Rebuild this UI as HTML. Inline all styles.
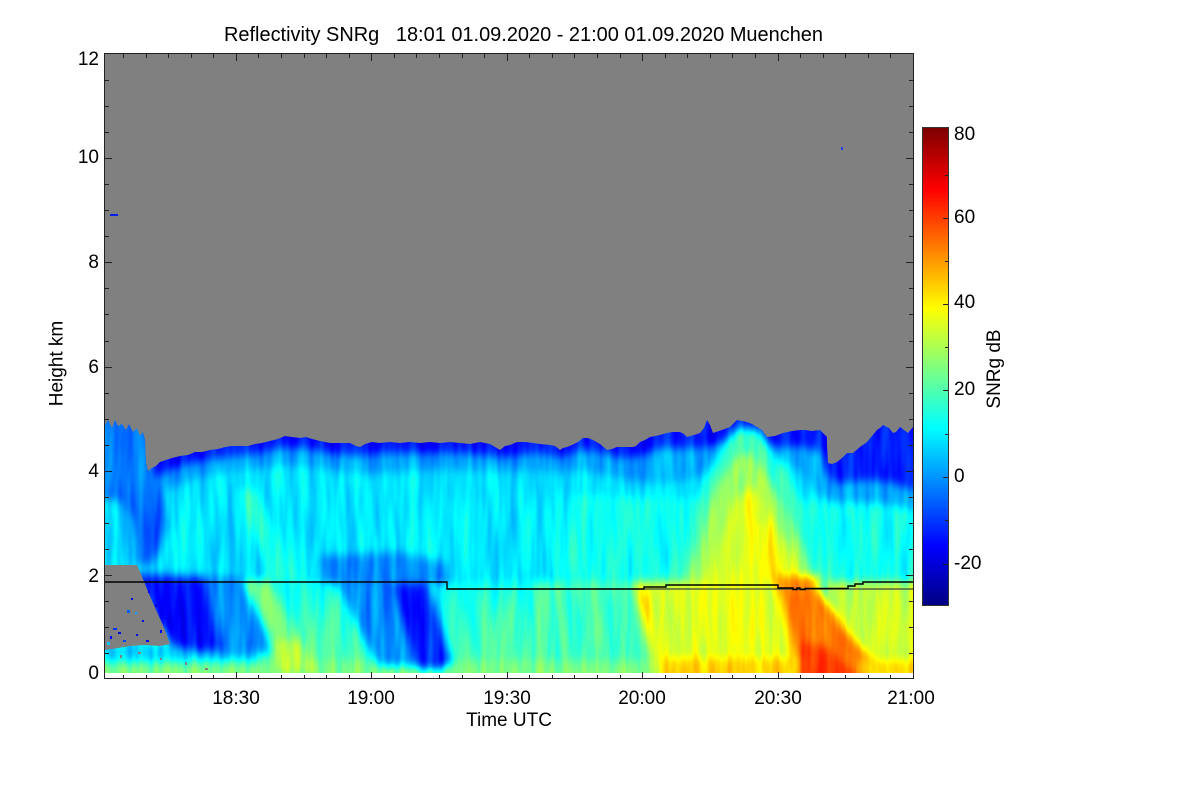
<!DOCTYPE html>
<html><head><meta charset="utf-8"><style>
html,body{margin:0;padding:0;background:#fff;}
svg{display:block;font-family:"Liberation Sans",Arial,Helvetica,sans-serif;}
</style></head><body>
<svg width="1200" height="800" viewBox="0 0 1200 800" xmlns="http://www.w3.org/2000/svg">
<defs>
<filter id="cm" filterUnits="userSpaceOnUse" x="75" y="24" width="868" height="679" color-interpolation-filters="sRGB">
<feGaussianBlur in="SourceGraphic" stdDeviation="4.5" result="b"/>
<feTurbulence type="fractalNoise" baseFrequency="0.11 0.012" numOctaves="2" seed="7" result="n"/>
<feColorMatrix in="n" type="matrix" values="1 0 0 0 0  1 0 0 0 0  1 0 0 0 0  0 0 0 0 1" result="ng"/>
<feComposite in="b" in2="ng" operator="arithmetic" k1="0" k2="1" k3="0.16" k4="-0.08" result="v"/>
<feComponentTransfer in="v">
<feFuncR type="table" tableValues="0 0 0 0 0.5 1 1 1 0.5"/>
<feFuncG type="table" tableValues="0 0 0.5 1 1 1 0.5 0 0"/>
<feFuncB type="table" tableValues="0.5 1 1 1 0.5 0 0 0 0"/>
</feComponentTransfer>
</filter>
<linearGradient id="lowg" gradientUnits="userSpaceOnUse" x1="0" y1="582" x2="0" y2="673">
<stop offset="0" stop-color="rgb(98,98,98)"/>
<stop offset="0.85" stop-color="rgb(116,116,116)"/>
<stop offset="1" stop-color="rgb(130,130,130)"/>
</linearGradient>
<linearGradient id="jet" gradientUnits="userSpaceOnUse" x1="0" y1="606" x2="0" y2="130">
<stop offset="0" stop-color="#000080"/>
<stop offset="0.125" stop-color="#0000ff"/>
<stop offset="0.375" stop-color="#00ffff"/>
<stop offset="0.625" stop-color="#ffff00"/>
<stop offset="0.875" stop-color="#ff0000"/>
<stop offset="1" stop-color="#800000"/>
</linearGradient>
<clipPath id="da"><rect x="105" y="54" width="808" height="619"/></clipPath>
</defs>
<rect width="1200" height="800" fill="#fff"/>

<g clip-path="url(#da)">
<g filter="url(#cm)">
<rect x="75" y="24" width="868" height="679" fill="rgb(90,90,90)"/>
<polygon points="570,495 943,505 943,582 560,582" fill="rgb(100,100,100)"/>
<rect x="75" y="582" width="570" height="121" fill="url(#lowg)"/>
<polygon points="530,582 636,582 664,703 555,703" fill="rgb(114,114,114)"/>
<polygon points="75,661 655,661 660,703 75,703" fill="rgb(126,126,126)"/>
<polygon points="825,582 943,582 943,703 865,703 840,630" fill="rgb(144,144,144)"/>
<polygon points="632,582 800,582 815,703 662,703 650,640" fill="rgb(152,152,152)"/>
<polygon points="778,582 815,582 845,630 885,673 890,703 800,703 790,630" fill="rgb(192,192,192)"/>
<polygon points="658,658 800,658 800,703 662,703" fill="rgb(170,170,170)"/>
<polygon points="638,595 648,595 668,673 656,673" fill="rgb(165,165,165)"/>
<polygon points="858,660 943,660 943,703 868,703" fill="rgb(168,168,168)"/>
<polygon points="802,642 826,647 855,673 852,703 802,703" fill="rgb(210,210,210)"/>
<polygon points="105,640 200,645 260,655 260,662 75,662 75,640" fill="rgb(85,85,85)"/>
<polygon points="128,572 255,578 278,652 220,655 180,645" fill="rgb(66,66,66)"/>
<polygon points="135,576 205,578 222,648 200,652 172,645 150,610" fill="rgb(36,36,36)"/>
<polygon points="243,580 268,580 318,673 284,673" fill="rgb(128,128,128)"/>
<polygon points="268,640 300,640 318,673 278,673" fill="rgb(142,142,142)"/>
<polygon points="335,580 405,580 432,666 378,666" fill="rgb(68,68,68)"/>
<polygon points="388,580 428,580 452,662 438,670 418,668 404,625" fill="rgb(40,40,40)"/>
<polygon points="75,24 943,24 943,512 913,510 890,505 860,502 835,503 815,492 800,472 785,462 760,455 740,455 720,462 700,476 680,482 660,484 640,482 620,478 600,474 580,470 560,472 520,470 480,471 440,469 400,472 360,474 320,468 290,465 250,469 200,476 170,488 152,500 105,500 75,500" fill="rgb(74,74,74)"/>
<polygon points="75,24 943,24 943,490 913,490 890,482 870,480 850,482 835,483 826,470 822,452 800,446 780,448 765,442 750,436 735,436 715,445 700,448 680,448 660,448 640,456 620,458 600,452 580,450 560,458 540,453 500,457 460,453 420,453 380,453 360,456 330,453 300,448 280,448 250,455 220,458 190,463 165,472 150,484 140,468 125,452 105,452 75,452" fill="rgb(38,38,38)"/>
<polygon points="75,400 150,400 152,470 165,495 170,525 160,550 150,565 135,565 132,520 120,500 75,500" fill="rgb(60,60,60)"/>
<polygon points="238,490 256,490 300,582 272,582" fill="rgb(106,106,106)"/>
<polygon points="320,556 400,552 445,562 450,584 325,584" fill="rgb(66,66,66)"/>
<polygon points="688,540 705,480 722,445 738,428 758,430 780,462 800,500 820,545 832,582 660,582" fill="rgb(110,110,110)"/>
<polygon points="700,545 718,485 735,458 750,452 765,474 790,518 808,560 815,582 685,582" fill="rgb(136,136,136)"/>
<polygon points="718,545 735,500 752,485 768,510 790,548 803,582 705,582" fill="rgb(154,154,154)"/>
<polygon points="755,522 766,522 782,582 764,582" fill="rgb(168,168,168)"/>
<polygon points="775,576 818,576 820,594 778,594" fill="rgb(188,188,188)"/>
</g>
<path fill="#808080" d="M105,54 L913,54 L913,427 908,433 904,430 900,427 896,432 893,433 889,428 883,425 880,428 877,430 872,436 867,442 860,447 853,453 847,453 842,458 837,462 832,464 828,463 827,445 827,437 822,432 820,430 812,431 805,430 800,430 792,431 783,433 775,436 767,437 762,430 757,427 752,424 747,422 742,421 737,420 733,424 730,427 722,430 716,432 713,433 710,425 707,420 704,428 700,433 694,435 687,437 684,434 680,432 673,432 667,433 660,435 655,436 650,437 645,440 640,442 636,446 633,447 625,447 617,447 612,449 607,450 600,444 593,440 588,438 583,438 578,442 572,445 567,447 563,448 560,450 555,446 550,445 540,444 533,443 525,442 517,442 510,445 505,446 500,450 490,444 480,442 470,444 460,443 450,442 440,443 430,442 420,443 410,442 400,443 390,442 380,443 372,442 365,444 360,447 356,446 350,443 340,443 330,443 320,441 312,439 306,437 300,438 292,437 285,436 278,439 270,441 262,443 255,444 248,446 240,446 232,446 225,447 218,449 210,450 202,452 195,452 188,455 180,456 172,458 166,460 160,462 156,466 152,468 148,471 146,462 145,440 143,432 140,436 137,428 133,432 129,424 126,430 122,424 118,426 115,420 112,428 108,420 105,425 Z"/>
<polygon fill="#808080" points="105,565 137,565 141,574 145,584 149,594 153,603 157,612 161,621 165,630 168,638 170,644 160,646 145,645 130,646 118,648 105,650"/>
<g>
<rect x="113" y="628" width="4" height="2" fill="#0030ff"/>
<rect x="118" y="632" width="3" height="2" fill="#0000e0"/>
<rect x="127" y="610" width="3" height="3" fill="#0060ff"/>
<rect x="135" y="612" width="2" height="2" fill="#00a0ff"/>
<rect x="148" y="590" width="2" height="3" fill="#0000ff"/>
<rect x="155" y="604" width="2" height="3" fill="#0000d0"/>
<rect x="142" y="620" width="2" height="2" fill="#0000ff"/>
<rect x="110" y="636" width="2" height="3" fill="#0000ff"/>
<rect x="123" y="640" width="3" height="2" fill="#0040ff"/>
<rect x="160" y="630" width="2" height="3" fill="#0000ff"/>
<rect x="131" y="598" width="2" height="2" fill="#0000ff"/>
<rect x="146" y="640" width="3" height="2" fill="#0000ff"/>
<rect x="107" y="642" width="3" height="3" fill="#00c0ff"/>
<rect x="136" y="634" width="2" height="2" fill="#0000ff"/>
<rect x="120" y="655" width="2" height="3" fill="#808080"/>
<rect x="138" y="652" width="3" height="2" fill="#808080"/>
<rect x="160" y="658" width="2" height="2" fill="#808080"/>
<rect x="185" y="662" width="2" height="3" fill="#808080"/>
<rect x="205" y="668" width="3" height="2" fill="#808080"/>
<rect x="110" y="214" width="8" height="2" fill="#0020f0"/>
<rect x="841" y="147" width="2" height="3" fill="#2040ff"/>
</g>
</g>

<!-- black lines -->
<polyline fill="none" stroke="#404040" stroke-width="1.2" points="447,589 913,589"/>
<polyline fill="none" stroke="#000" stroke-width="1.4" points="105,582 447,582 447,589 644,589 644,587 666,587 666,585 778,585 778,588 793,588 793,589.5 797,589.5 797,588 800,588 800,589.5 805,589.5 805,588.5 848,588.5 848,586 855,586 855,584 863,584 863,582 913,582"/>

<!-- frame -->
<rect x="104.5" y="53.5" width="809" height="625" fill="none" stroke="#222" stroke-width="1"/>
<path stroke="#222" stroke-width="1" fill="none" d="
M123.5 679v-4M146.5 679v-4M168.5 679v-4M191.5 679v-4M213.5 679v-4M258.5 679v-4M281.5 679v-4M304.5 679v-4M326.5 679v-4M349.5 679v-4M394.5 679v-4M416.5 679v-4M439.5 679v-4M462.5 679v-4M484.5 679v-4M529.5 679v-4M552.5 679v-4M574.5 679v-4M597.5 679v-4M620.5 679v-4M665.5 679v-4M687.5 679v-4M710.5 679v-4M732.5 679v-4M755.5 679v-4M800.5 679v-4M823.5 679v-4M845.5 679v-4M868.5 679v-4M890.5 679v-4
M236.5 679v-7M371.5 679v-7M507.5 679v-7M642.5 679v-7M778.5 679v-7
M123.5 54v4M146.5 54v4M168.5 54v4M191.5 54v4M213.5 54v4M258.5 54v4M281.5 54v4M304.5 54v4M326.5 54v4M349.5 54v4M394.5 54v4M416.5 54v4M439.5 54v4M462.5 54v4M484.5 54v4M529.5 54v4M552.5 54v4M574.5 54v4M597.5 54v4M620.5 54v4M665.5 54v4M687.5 54v4M710.5 54v4M732.5 54v4M755.5 54v4M800.5 54v4M823.5 54v4M845.5 54v4M868.5 54v4M890.5 54v4
M236.5 54v7M371.5 54v7M507.5 54v7M642.5 54v7M778.5 54v7
M105 653.5h4M105 627.5h4M105 601.5h4M105 549.5h4M105 523.5h4M105 497.5h4M105 445.5h4M105 419.5h4M105 393.5h4M105 341.5h4M105 314.5h4M105 288.5h4M105 236.5h4M105 210.5h4M105 184.5h4M105 132.5h4M105 106.5h4M105 80.5h4
M105 575.5h7M105 471.5h7M105 367.5h7M105 262.5h7M105 158.5h7
M913 653.5h-4M913 627.5h-4M913 601.5h-4M913 549.5h-4M913 523.5h-4M913 497.5h-4M913 445.5h-4M913 419.5h-4M913 393.5h-4M913 341.5h-4M913 314.5h-4M913 288.5h-4M913 236.5h-4M913 210.5h-4M913 184.5h-4M913 132.5h-4M913 106.5h-4M913 80.5h-4
M913 575.5h-7M913 471.5h-7M913 367.5h-7M913 262.5h-7M913 158.5h-7
"/>

<!-- title -->
<text x="224" y="41" font-size="20" fill="#000" style="white-space:pre" textLength="599" lengthAdjust="spacingAndGlyphs">Reflectivity SNRg   18:01 01.09.2020 - 21:00 01.09.2020 Muenchen</text>

<!-- y tick labels -->
<g font-size="19" fill="#000" text-anchor="end">
<text x="99" y="65">12</text>
<text x="99" y="163">10</text>
<text x="99" y="268">8</text>
<text x="99" y="373">6</text>
<text x="99" y="477">4</text>
<text x="99" y="582">2</text>
<text x="99" y="679">0</text>
</g>
<text transform="translate(62.5,363.5) rotate(-90)" font-size="19" text-anchor="middle" fill="#000">Height km</text>

<!-- x tick labels -->
<g font-size="19" fill="#000" text-anchor="middle">
<text x="236" y="704">18:30</text>
<text x="371" y="704">19:00</text>
<text x="507" y="704">19:30</text>
<text x="642" y="704">20:00</text>
<text x="778" y="704">20:30</text>
<text x="911" y="704">21:00</text>
</g>
<text x="509" y="726" font-size="19" text-anchor="middle" fill="#000">Time UTC</text>

<!-- colorbar -->
<rect x="923" y="127" width="25" height="478" fill="url(#jet)"/>
<rect x="922.5" y="127.5" width="26" height="478" fill="none" stroke="#333" stroke-width="1"/>
<path stroke="#222" stroke-width="1" d="M948 218.5h-5M948 304.5h-5M948 390.5h-5M948 477.5h-5M948 564.5h-5M948 175.5h-3M948 261.5h-3M948 347.5h-3M948 434.5h-3M948 520.5h-3"/>
<g font-size="19" fill="#000">
<text x="954" y="140">80</text>
<text x="954" y="223">60</text>
<text x="954" y="308">40</text>
<text x="954" y="395">20</text>
<text x="954" y="482">0</text>
<text x="954" y="569">-20</text>
</g>
<text transform="translate(1000,369) rotate(-90)" font-size="19" text-anchor="middle" fill="#000">SNRg dB</text>
</svg>
</body></html>
